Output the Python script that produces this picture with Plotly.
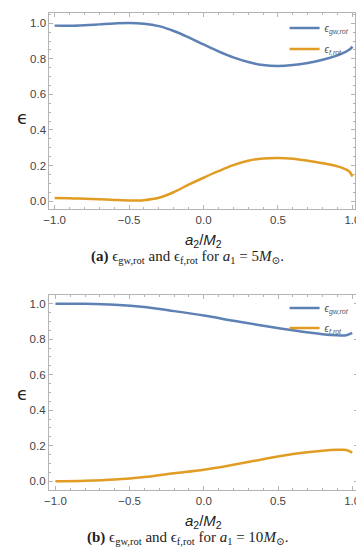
import plotly.graph_objects as go

# ---- data ----
a2_top = [-1.0, -0.9, -0.8, -0.7, -0.6, -0.5, -0.4, -0.3, -0.2, -0.1, 0.0, 0.1, 0.2, 0.3,
          0.4, 0.5, 0.6, 0.7, 0.8, 0.9, 0.95, 0.98, 1.0]
gw_top = [0.987, 0.986, 0.989, 0.994, 0.999, 1.002, 0.998, 0.984, 0.957, 0.921, 0.881, 0.842, 0.808, 0.782,
          0.765, 0.760, 0.765, 0.777, 0.795, 0.820, 0.838, 0.852, 0.869]
f_top = [0.017, 0.016, 0.013, 0.010, 0.006, 0.003, 0.005, 0.018, 0.050, 0.092, 0.131, 0.168, 0.202, 0.227,
         0.239, 0.242, 0.238, 0.227, 0.213, 0.195, 0.180, 0.165, 0.138]

a2_bot = [-1.0, -0.8, -0.6, -0.4, -0.2, 0.0, 0.2, 0.4, 0.6, 0.8, 0.9, 0.96, 1.0]
gw_bot = [1.000, 0.999, 0.994, 0.981, 0.958, 0.933, 0.904, 0.876, 0.850, 0.828, 0.822, 0.822, 0.835]
f_bot = [0.000, 0.003, 0.010, 0.024, 0.045, 0.065, 0.093, 0.124, 0.153, 0.172, 0.177, 0.176, 0.161]

x_ticks = [-1.0, -0.5, 0.0, 0.5, 1.0]
x_tick_labels = ["\u22121.0", "\u22120.5", "0.0", "0.5", "1.0"]
y_ticks = [0.0, 0.2, 0.4, 0.6, 0.8, 1.0]
y_tick_labels = ["0.0", "0.2", "0.4", "0.6", "0.8", "1.0"]

name_gw = "<i>\u03f5</i><sub><i>gw,rot</i></sub>"
name_f = "<i>\u03f5</i><sub><i>f,rot</i></sub>"
cap_a = "<b>(a)</b> \u03f5<sub>gw,rot</sub> and \u03f5<sub>f,rot</sub> for <i>a</i><sub>1</sub> = 5<i>M</i><sub>\u2299</sub>."
cap_b = "<b>(b)</b> \u03f5<sub>gw,rot</sub> and \u03f5<sub>f,rot</sub> for <i>a</i><sub>1</sub> = 10<i>M</i><sub>\u2299</sub>."

BLUE = "#5E81B5"
ORANGE = "#E19C24"
FRAME = "#b4b4b4"
TICKFONT = dict(family="Liberation Sans, Arial, sans-serif", size=11.5, color="#444444")

fig = go.Figure()
def add(x, y, name, color, xa, ya, leg):
    fig.add_trace(go.Scatter(x=x, y=y, mode="lines", name=name,
                             line=dict(color=color, width=2.5, shape="spline", smoothing=1.0),
                             xaxis=xa, yaxis=ya, legend=leg))
add(a2_top, gw_top, name_gw, BLUE, "x", "y", "legend")
add(a2_top, f_top, name_f, ORANGE, "x", "y", "legend2")
add(a2_bot, gw_bot, name_gw, BLUE, "x2", "y2", "legend3")
add(a2_bot, f_bot, name_f, ORANGE, "x2", "y2", "legend4")

def xax(domain, rng, anchor):
    return dict(domain=domain, range=rng, anchor=anchor, showgrid=False, zeroline=False,
                showline=True, linecolor=FRAME, linewidth=1, mirror="allticks",
                ticks="inside", ticklen=4, tickcolor=FRAME, tickwidth=1,
                tickvals=x_ticks, ticktext=x_tick_labels, tickfont=TICKFONT,
                minor=dict(dtick=0.1, tick0=0, ticks="inside", ticklen=2, tickcolor=FRAME, showgrid=False))

def yax(domain, rng, anchor):
    return dict(domain=domain, range=rng, anchor=anchor, showgrid=False, zeroline=False,
                showline=True, linecolor=FRAME, linewidth=1, mirror="allticks",
                ticks="inside", ticklen=4, tickcolor=FRAME, tickwidth=1,
                tickvals=y_ticks, ticktext=y_tick_labels, tickfont=TICKFONT,
                minor=dict(dtick=0.05, tick0=0, ticks="inside", ticklen=2, tickcolor=FRAME, showgrid=False))

legfont = dict(family="Liberation Sans, Arial, sans-serif", size=10, color="#555555")
def leg(ypix):
    return dict(x=279/364, y=1 - ypix/550, xanchor="left", yanchor="middle", font=legfont,
                bgcolor="rgba(0,0,0,0)", itemwidth=30)

fig.update_layout(
    width=364, height=550,
    margin=dict(l=0, r=0, t=0, b=0),
    paper_bgcolor="white", plot_bgcolor="white",
    xaxis=xax([0.1003, 0.967], [-1.035, 1.0195], "y"),
    yaxis=yax([0.6345, 0.9909], [-0.045, 1.058], "x"),
    xaxis2=xax([0.0989, 0.9753], [-1.044, 1.041], "y2"),
    yaxis2=yax([0.1231, 0.4776], [-0.051, 1.047], "x2"),
    legend=leg(20), legend2=leg(41), legend3=leg(300), legend4=leg(320),
    showlegend=True,
)

axis_font = dict(family="Liberation Sans, Arial, sans-serif", size=15, color="#222222")
eps_font = dict(family="DejaVu Sans, sans-serif", size=18, color="#222222")
cap_font = dict(family="Liberation Serif, DejaVu Serif, serif", size=15, color="#222222")
for ypix in (109, 385):
    fig.add_annotation(text="\u03f5", xref="paper", yref="paper", x=9/364, y=1 - ypix/550,
                       showarrow=False, font=eps_font, xanchor="center", yanchor="middle")
for ypix in (232, 513):
    fig.add_annotation(text="<i>a</i><sub>2</sub>/<i>M</i><sub>2</sub>", xref="paper", yref="paper",
                       x=195/364, y=1 - ypix/550, showarrow=False, font=axis_font,
                       xanchor="center", yanchor="middle")
fig.add_annotation(text=cap_a, xref="paper", yref="paper", x=179/364, y=1 - 249/550,
                   showarrow=False, font=cap_font, xanchor="center", yanchor="middle")
fig.add_annotation(text=cap_b, xref="paper", yref="paper", x=179/364, y=1 - 530/550,
                   showarrow=False, font=cap_font, xanchor="center", yanchor="middle")

fig.write_html("out.html")
